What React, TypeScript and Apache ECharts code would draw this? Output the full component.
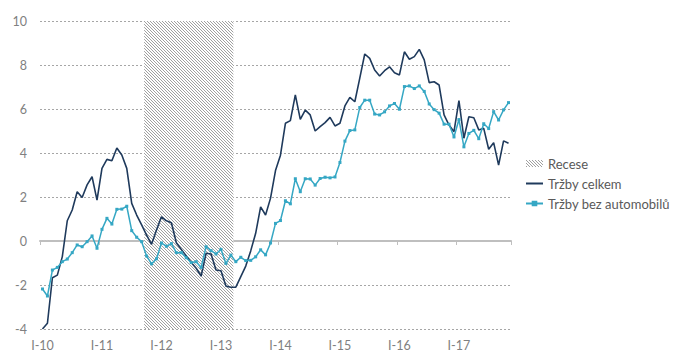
import React, { useEffect, useRef } from "react";
import * as echarts from "echarts";

// Month labels (Roman numeral month - two digit year)
const ROMAN = ["I", "II", "III", "IV", "V", "VI", "VII", "VIII", "IX", "X", "XI", "XII"];
const YEARS = ["10", "11", "12", "13", "14", "15", "16", "17"];
const MONTH_COUNT = 95; // I-10 .. XI-17

// Recession: X-11 .. III-13 (category indices, end exclusive)
const RECESSION_START = 21;
const RECESSION_END = 39;

const trzbyCelkem = [
  -4.0, -3.74, -1.67, -1.55, -0.71, 0.92, 1.41, 2.24, 1.98, 2.55, 2.92, 1.86,
  3.3, 3.71, 3.65, 4.23, 3.91, 3.3, 1.71, 1.18, 0.73, 0.27, -0.15, 0.5,
  1.1, 0.92, 0.83, -0.08, -0.38, -0.68, -0.98, -1.24, -1.59, -0.56, -0.59, -1.32,
  -1.35, -2.05, -2.1, -2.1, -1.62, -1.14, -0.45, 0.35, 1.55, 1.18, 1.95, 3.2,
  3.9, 5.35, 5.47, 6.64, 5.53, 5.95, 5.73, 5.0, 5.2, 5.38, 5.62, 5.23,
  5.35, 6.14, 6.53, 6.33, 7.4, 8.5, 8.3, 7.77, 7.5, 7.74, 7.92, 7.65,
  7.55, 8.6, 8.26, 8.38, 8.71, 8.23, 7.2, 7.24, 7.09, 5.73, 5.27, 4.97,
  6.38, 4.67, 5.65, 5.6, 5.05, 5.12, 4.17, 4.47, 3.45, 4.55, 4.44,
];

const trzbyBezAutomobilu = [
  -2.18, -2.5, -1.32, -1.2, -0.94, -0.82, -0.53, -0.18, -0.26, -0.03, 0.23, -0.33,
  0.53, 1.03, 0.77, 1.44, 1.45, 1.58, 0.47, 0.17, -0.03, -0.68, -1.04, -0.81,
  -0.09, -0.24, -0.12, -0.53, -0.53, -0.76, -0.98, -0.94, -1.2, -0.26, -0.44, -0.59,
  -0.38, -1.02, -0.64, -0.94, -0.74, -0.89, -0.88, -0.72, -0.4, -0.63, -0.09, 0.8,
  0.93, 1.83, 1.69, 2.83, 2.24, 2.83, 2.82, 2.54, 2.84, 2.9, 2.87, 2.91,
  3.57, 4.54, 5.02, 5.05, 6.07, 6.4, 6.4, 5.77, 5.73, 5.87, 6.14, 6.25,
  5.99, 7.02, 7.05, 6.93, 7.05, 6.8, 6.23, 5.97, 5.81, 5.31, 5.31, 4.73,
  5.52, 4.28, 4.89, 5.03, 4.65, 5.33, 5.11, 5.88, 5.5, 5.96, 6.29,
];

const categories: string[] = [];
for (let i = 0; i < MONTH_COUNT; i++) {
  categories.push(ROMAN[i % 12] + "-" + YEARS[Math.floor(i / 12)]);
}

const FONT = "Lato";
const NAVY = "#1f3a5c";
const TEAL = "#35a7c4";

function makeHatch() {
  const c = document.createElement("canvas");
  c.width = 3;
  c.height = 3;
  const ctx = c.getContext("2d")!;
  ctx.fillStyle = "#ffffff";
  ctx.fillRect(0, 0, 3, 3);
  ctx.fillStyle = "#a0a0a0";
  for (let i = 0; i < 3; i++) ctx.fillRect(i, i, 1, 1);
  return { image: c, repeat: "repeat" } as any;
}

export default function App() {
  const ref = useRef<HTMLDivElement>(null);
  useEffect(() => {
    if (!ref.current) return;
    const chart = echarts.init(ref.current, undefined, { renderer: "svg" });
    const hatch = makeHatch();
    chart.setOption({
      animation: false,
      backgroundColor: "#ffffff",
      grid: { left: 40, right: 166, top: 21, bottom: 23 },
      xAxis: [
        {
          type: "category",
          data: categories,
          position: "bottom",
          boundaryGap: true,
          axisLine: { show: false, onZero: false },
          axisTick: { show: false },
          splitLine: { show: false },
          axisLabel: { interval: 11, color: "#808080", fontSize: 12.5, fontFamily: FONT, margin: 10 },
        },
        {
          type: "category",
          data: categories,
          position: "top",
          boundaryGap: true,
          axisLine: { show: true, onZero: true, lineStyle: { color: "#bfbfbf", width: 2 } },
          axisTick: { show: true, interval: 11, inside: true, length: 4, lineStyle: { color: "#bfbfbf", width: 1 } },
          axisLabel: { show: false },
          splitLine: { show: false },
        },
        { type: "value", min: 0, max: MONTH_COUNT, show: false },
      ],
      yAxis: {
        type: "value",
        min: -4,
        max: 10,
        interval: 2,
        axisLine: { show: false },
        axisTick: { show: false },
        axisLabel: { color: "#808080", fontSize: 12.5, fontFamily: FONT, margin: 13 },
        splitLine: { lineStyle: { color: "#a6a6a6", type: [2, 2], width: 1 } },
      },
      legend: {
        orient: "vertical",
        left: 520,
        top: 152,
        itemWidth: 17,
        itemHeight: 7,
        itemGap: 7,
        textStyle: { color: "#595959", fontSize: 13, fontFamily: FONT },
        data: [
          { name: "Recese", icon: "rect", itemStyle: { color: hatch } },
          { name: "Tržby celkem", itemStyle: { opacity: 0 } },
          "Tržby bez automobilů",
        ],
      },
      series: [
        {
          name: "Recese",
          type: "line",
          xAxisIndex: 2,
          data: [],
          symbol: "none",
          silent: true,
          itemStyle: { color: hatch },
          lineStyle: { width: 0 },
          markArea: {
            silent: true,
            itemStyle: { color: hatch },
            data: [[{ xAxis: RECESSION_START }, { xAxis: RECESSION_END }]],
          },
        },
        {
          name: "Tržby celkem",
          type: "line",
          data: trzbyCelkem,
          symbol: "none",
          lineStyle: { color: NAVY, width: 1.6 },
          itemStyle: { color: NAVY },
          z: 3,
        },
        {
          name: "Tržby bez automobilů",
          type: "line",
          data: trzbyBezAutomobilu,
          symbol: "rect",
          symbolSize: 3,
          showSymbol: true,
          showAllSymbol: true,
          lineStyle: { color: TEAL, width: 1.5 },
          itemStyle: { color: TEAL },
          z: 4,
        },
      ],
    });
    return () => chart.dispose();
  }, []);
  return (
    <div
      ref={ref}
      style={{ position: "fixed", left: 0, top: 0, width: 677, height: 352 }}
    />
  );
}
